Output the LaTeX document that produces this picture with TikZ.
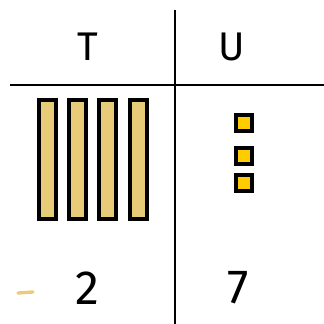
\documentclass[tikz,border=0pt]{standalone}
\usepackage{fontspec}
\setmainfont{Fira Sans}
\usepackage{tikz}
\definecolor{rodfill}{HTML}{E8CB78}
\definecolor{cubefill}{HTML}{FFCC00}
\definecolor{dashyellow}{HTML}{EBCB78}

\begin{document}
\begin{tikzpicture}[x=0.75pt,y=-0.75pt]

\tikzset{
head/.style={font=\fontsize{30}{34}\selectfont},
digit/.style={font=\fontsize{36}{40}\selectfont},
rod/.style={
    draw=black,
    line width=2.6pt,
    fill=rodfill,
    minimum width=13pt,
    minimum height=89pt,
    inner sep=0pt
},
cube/.style={
    draw=black,
    line width=2.6pt,
    fill=cubefill,
    minimum width=12pt,
    minimum height=12pt,
    inner sep=0pt
},
rule/.style={line width=1.5pt}
}

\useasboundingbox (0,0) rectangle (324,324);

% table lines
\coordinate (top) at (175,10);
\coordinate (bottom) at (175,324);
\coordinate (left) at (10,85);
\coordinate (right) at (324,85);
\draw[rule] (top) -- (bottom);
\draw[rule] (left) -- (right);

% headings
\node[head] (tens) at (88,47) {T};
\node[head] (units) at (232,47) {U};

% tens rods
\foreach \i/\x in {1/47.5,2/77.5,3/107.5,4/138.5}
  \node[rod] (rod\i) at (\x,159.5) {};

% unit cubes
\foreach \i/\y in {1/123,2/156,3/183}
  \node[cube] (cube\i) at (244,\y) {};

% digits
\node[digit] (two) at (87,288) {2};
\node[digit] (seven) at (238,288) {7};

\draw[dashyellow,line width=2.5pt,line cap=round] (18,293) -- (33,292);

\end{tikzpicture}
\end{document}
